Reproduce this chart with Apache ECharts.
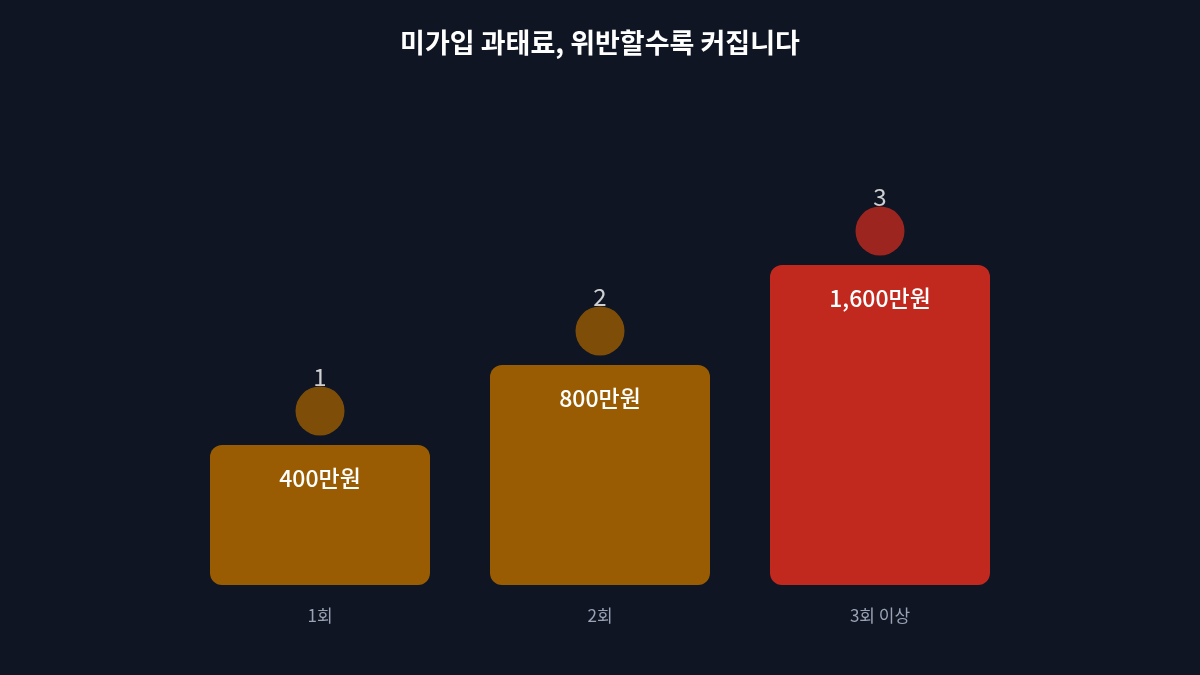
<!DOCTYPE html>
<html>
<head>
<meta charset="utf-8">
<script src="https://cdn.jsdelivr.net/npm/echarts@6/dist/echarts.min.js"></script>
<style>
html, body { margin: 0; padding: 0; background: #0f1522; }
#chart { width: 1200px; height: 675px; }
</style>
</head>
<body>
<div id="chart"></div>
<script>
// 위반 횟수별 과태료 (막대 높이는 그림의 시각적 높이)
var categories = ["1회", "2회", "3회 이상"];
var fineLabels = ["400만원", "800만원", "1,600만원"];
var barHeights = [140, 220, 320];
var badges = ["1", "2", "3"];
var colors = ["#9a5c02", "#9a5c02", "#c1291f"];

var chart = echarts.init(document.getElementById("chart"));

chart.setOption({
  backgroundColor: "#0f1522",
  title: {
    text: "미가입 과태료, 위반할수록 커집니다",
    left: "center",
    top: 24,
    textStyle: {
      color: "#ffffff",
      fontSize: 27,
      fontWeight: "bold",
      fontFamily: "Noto Sans CJK KR"
    }
  },
  grid: { left: 180, right: 180, top: 185, bottom: 90 },
  xAxis: {
    type: "category",
    data: categories,
    axisLine: { show: false },
    axisTick: { show: false },
    axisLabel: {
      color: "#9aa3b5",
      fontSize: 17,
      margin: 22,
      fontFamily: "Noto Sans CJK KR"
    }
  },
  yAxis: {
    type: "value",
    min: 0,
    max: 400,
    show: false,
    splitLine: { show: false }
  },
  series: [
    {
      type: "bar",
      barWidth: 220,
      data: barHeights.map(function (h, i) {
        return { value: h, itemStyle: { color: colors[i] } };
      }),
      itemStyle: { borderRadius: 12 },
      label: {
        show: true,
        position: "insideTop",
        distance: 22,
        color: "#ffffff",
        fontSize: 23,
        fontWeight: 500,
        fontFamily: "Noto Sans CJK KR",
        formatter: function (p) { return fineLabels[p.dataIndex]; }
      }
    },
    {
      type: "scatter",
      data: barHeights.map(function (h, i) {
        return { value: h, itemStyle: { color: colors[i] } };
      }),
      symbol: "circle",
      symbolSize: 49,
      symbolOffset: [0, -34],
      z: 5,
      label: {
        show: true,
        position: "inside",
        offset: [0, -34],
        color: "#ffffff",
        fontSize: 24,
        fontFamily: "Noto Sans CJK KR",
        formatter: function (p) { return badges[p.dataIndex]; }
      }
    }
  ]
});
</script>
</body>
</html>
